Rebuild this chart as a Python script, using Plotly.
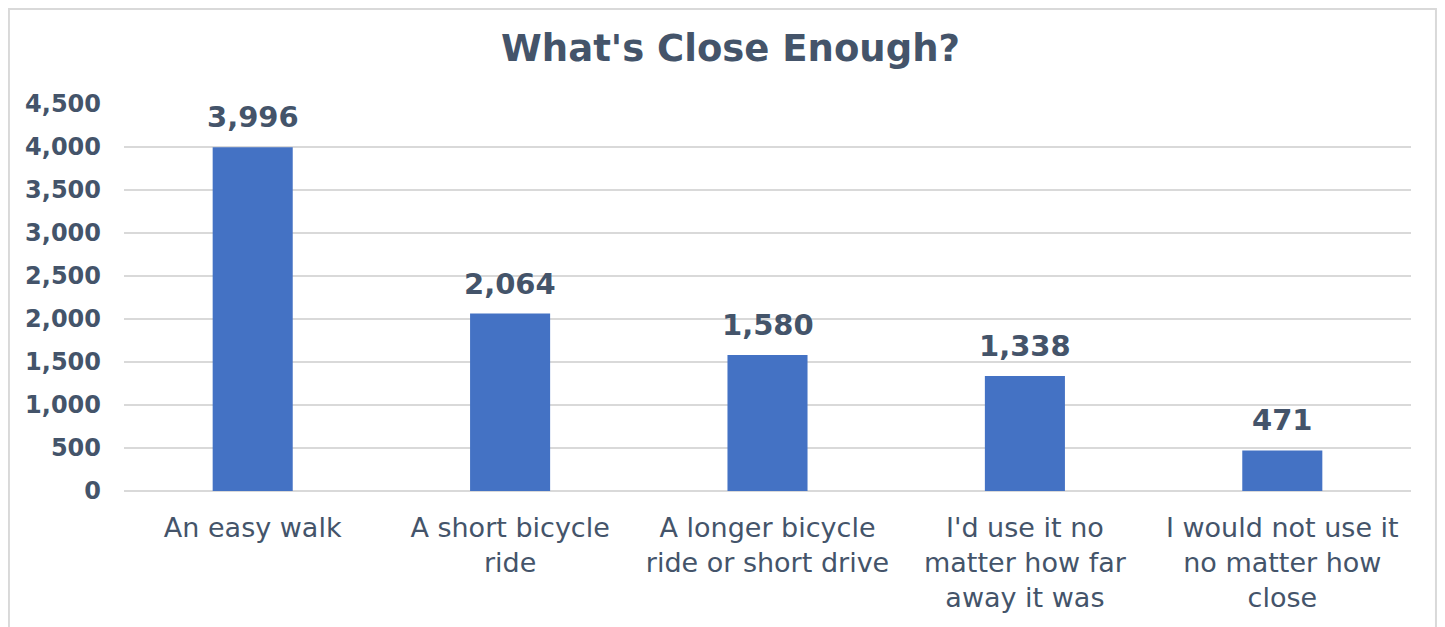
import plotly.graph_objects as go

# survey answers
categories = [
    "An easy walk",
    "A short bicycle<br>ride",
    "A longer bicycle<br>ride or short drive",
    "I'd use it no<br>matter how far<br>away it was",
    "I would not use it<br>no matter how<br>close",
]
counts = [3996, 2064, 1580, 1338, 471]
y_ticks = [0, 500, 1000, 1500, 2000, 2500, 3000, 3500, 4000, 4500]

bar_color = "#4472C4"
text_color = "#44546A"
grid_color = "#D9D9D9"
font_family = "DejaVu Sans"

fig = go.Figure(go.Bar(x=categories, y=counts, marker={"color": bar_color, "line": {"width": 0}}))

# value labels above bars
for c, v in zip(categories, counts):
    fig.add_annotation(x=c, y=v, text=f"{v:,}", showarrow=False, yanchor="bottom", yshift=11,
                       font={"family": font_family, "size": 29, "color": text_color, "weight": "bold"})

# outer chart frame
fig.add_shape(type="rect", xref="paper", yref="paper", x0=-0.0894, x1=1.0194, y0=-0.6, y1=1.2455,
              line={"color": grid_color, "width": 2}, layer="below")

fig.update_layout(
    width=1445, height=627,
    paper_bgcolor="white", plot_bgcolor="white",
    margin={"l": 116, "r": 42, "t": 96, "b": 144},
    bargap=0.689,
    showlegend=False,
    font={"family": font_family, "color": text_color},
    title={"text": "What's Close Enough?", "x": 0.5, "xanchor": "center", "y": 0.936, "yanchor": "middle",
           "font": {"family": font_family, "size": 37, "color": text_color, "weight": "bold"}},
    xaxis={"showgrid": False, "showline": False, "tickfont": {"size": 27, "color": text_color},
           "ticklabelstandoff": 18, "tickangle": 0},
    yaxis={"range": [0, 4500], "tickvals": y_ticks, "tickformat": ",", "showgrid": True,
           "gridcolor": grid_color, "gridwidth": 2, "zeroline": True, "zerolinecolor": grid_color,
           "zerolinewidth": 2, "showline": False, "ticklabelstandoff": 22,
           "tickfont": {"size": 24, "color": text_color, "weight": "bold"}},
)

fig.write_html("out.html")
